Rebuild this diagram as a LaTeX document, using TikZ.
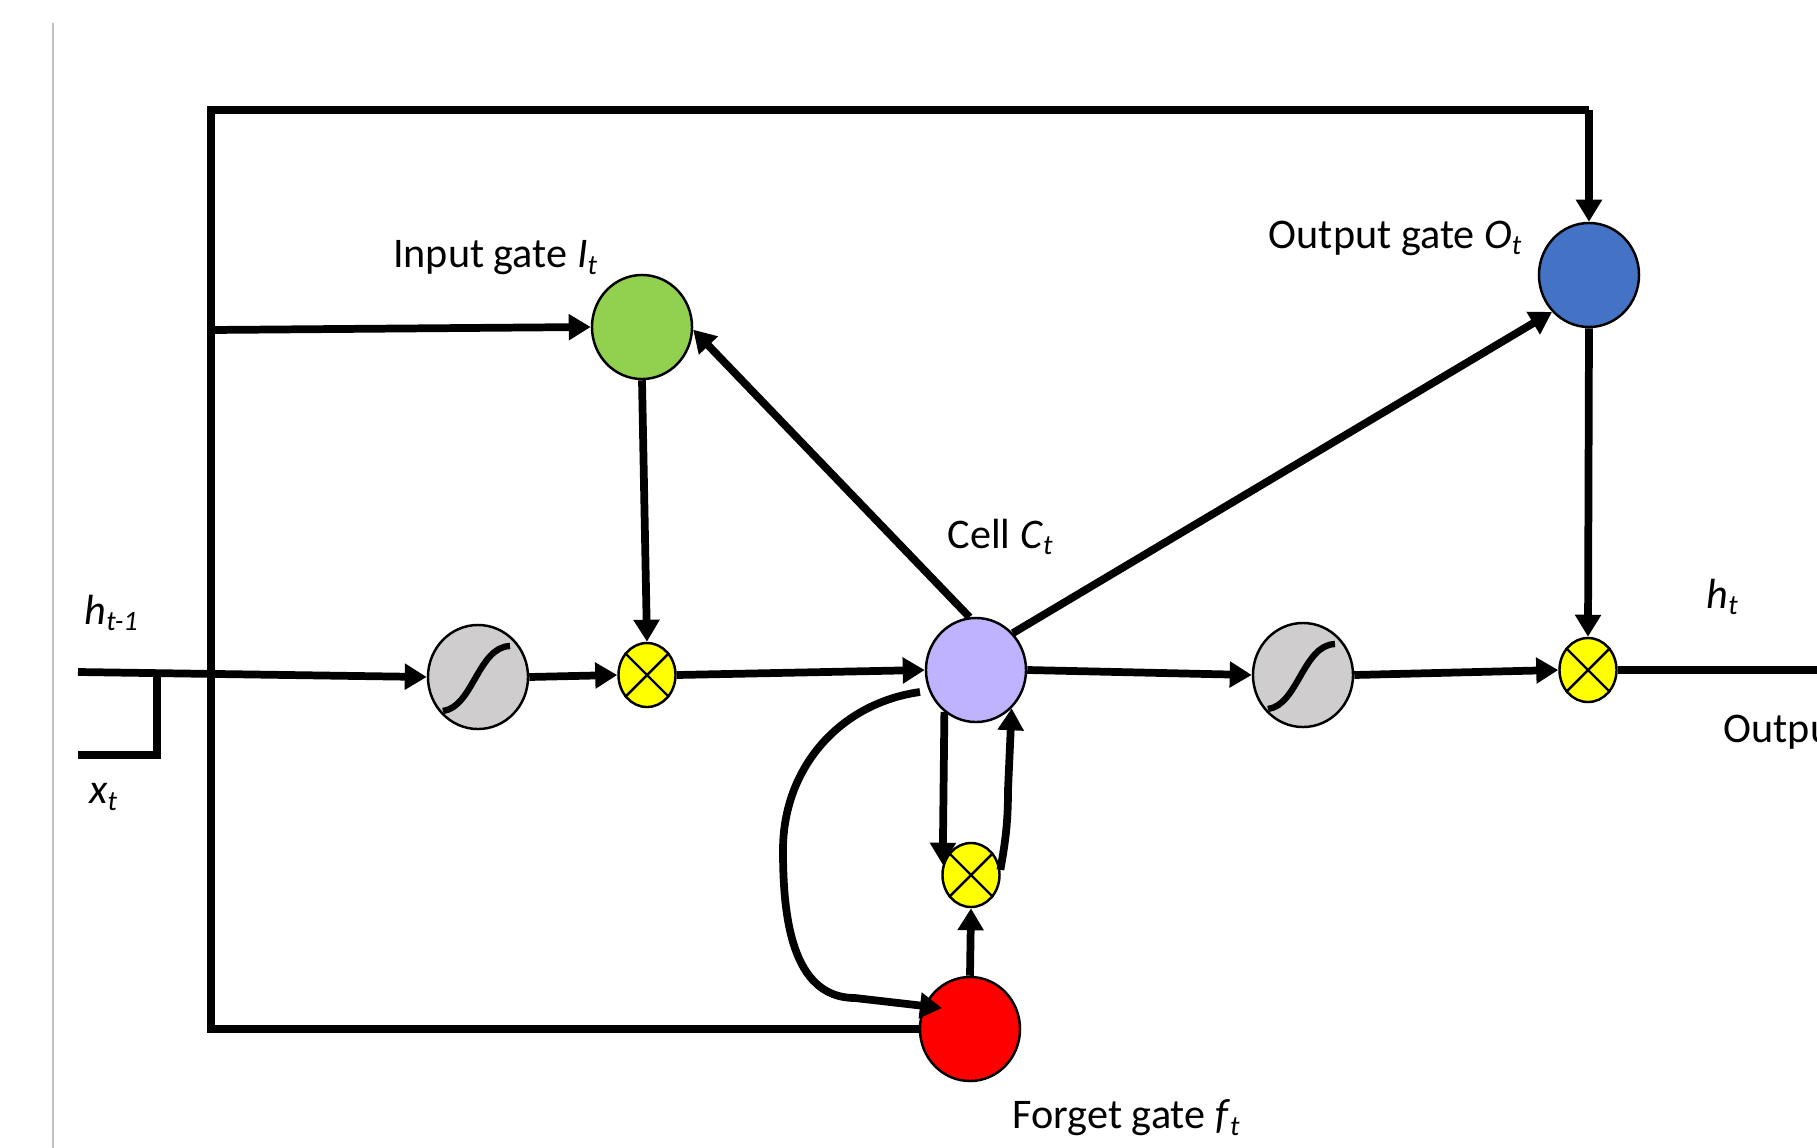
\documentclass[tikz,border=0pt]{standalone}
\usepackage{fontspec}
\setmainfont{Carlito}
\usetikzlibrary{arrows.meta,shapes.geometric}
\definecolor{cgreen}{HTML}{92D050}
\definecolor{cblue}{HTML}{4472C4}
\definecolor{ccell}{HTML}{BFB3FF}
\definecolor{cgray}{HTML}{CFCDCD}
\definecolor{cyel}{HTML}{FFFF00}
\definecolor{cred}{HTML}{FF0000}
\begin{document}
\begin{tikzpicture}[x=0.01cm,y=-0.01cm,
  gate/.style={ellipse,draw=black,line width=0.7pt,minimum width=1cm,minimum height=1.04cm,inner sep=0pt},
  mulnode/.style={ellipse,draw=black,line width=0.7pt,fill=cyel,minimum width=0.57cm,minimum height=0.64cm,inner sep=0pt},
  wire/.style={line width=2.2pt,line join=miter},
  arr/.style={wire,-{Triangle[length=0.22cm,width=0.25cm]}},
  sline/.style={line width=1.8pt},
  lbl/.style={font=\fontsize{12}{14}\selectfont,inner sep=0pt}]
\useasboundingbox (0,0) rectangle (1817,1148);
\clip (0,0) rectangle (1817,1148);
\draw[color=black!25,line width=0.5pt] (53,23) -- (53,1148);

% nodes
\node[gate,fill=cgreen] (ig) at (642,327) {};
\node[gate,fill=cblue] (og) at (1589,275) {};
\node[gate,fill=ccell] (cell) at (976,670) {};
\node[gate,fill=cred] (fg) at (970,1029) {};
\node[gate,fill=cgray] (sig1) at (478,677) {};
\node[gate,fill=cgray] (sig2) at (1303,675) {};
\node[mulnode] (mul1) at (647,675) {};
\node[mulnode] (mulf) at (971,875) {};
\node[mulnode] (mulo) at (1588,670) {};
\foreach \m in {mul1,mulf,mulo}{
  \draw[line width=0.7pt] (\m.45) -- (\m.225) (\m.135) -- (\m.315);
}
\foreach \s in {sig1,sig2}{
  \draw[sline] ([shift={(-35,34)}]\s.center) .. controls ([shift={(-5,30)}]\s.center) and ([shift={(0,-30)}]\s.center) .. ([shift={(32,-31)}]\s.center);
}

% coordinates
\coordinate (hin) at (78,672);
\coordinate (xin) at (78,755);
\coordinate (xj) at (157,672);
\coordinate (tl) at (211,110);
\coordinate (tr) at (1589,110);
\coordinate (bl) at (211,1029);
\coordinate (il) at (211,330);
\coordinate (hout) at (1817,670);
\coordinate (cs) at (920,692);
\coordinate (cl) at (783,850);
\coordinate (cb) at (855,998);
\coordinate (fe) at (942,1008);
\coordinate (fr) at (1008,790);

% connectors
\draw[wire] (fg.west) -- (bl) -- (tl) -- (tr);
\draw[arr] (tr) -- (og.north);
\draw[arr] (il) -- (ig.west);
\draw[arr] (hin) -- (sig1.west);
\draw[wire] (xin) -| (xj);
\draw[arr] (sig1.east) -- (mul1.west);
\draw[arr] (ig.south) -- (mul1.north);
\draw[arr] (mul1.east) -- (cell.west);
\draw[arr] (cell.97) -- (ig.-3);
\draw[arr] (cell.45) -- (og.225);
\draw[arr] (cell.east) -- (sig2.west);
\draw[arr] (sig2.east) -- (mulo.west);
\draw[arr] (og.south) -- (mulo.north);
\draw[wire] (mulo.east) -- (hout);
\draw[arr] (cell.233) -- (mulf.160);
\draw[arr] (mulf.10) to[out=80,in=-90] (fr) -- (cell.313);
\draw[arr] (fg.north) -- (mulf.south);
\draw[arr] (cs) to[out=188,in=90] (cl) to[out=-90,in=180] (cb) -- (fe);

% labels
\node[lbl] (tin) at (496,258) {Input gate \textit{I}\textsubscript{\textit{t}}};
\node[lbl] (tout) at (1396,238) {Output gate \textit{O}\textsubscript{\textit{t}}};
\node[lbl] (tcell) at (1001,537) {Cell \textit{C}\textsubscript{\textit{t}}};
\node[lbl] (tfg) at (1127,1118) {Forget gate \textit{f}\textsubscript{\textit{t}}};
\node[lbl] (tht) at (1723,597) {\textit{h}\textsubscript{\textit{t}}};
\node[lbl,anchor=west] (touput) at (1723,732) {Output};
\node[lbl] (thm) at (112,613) {\textit{h}\textsubscript{\textit{t-1}}};
\node[lbl] (txt) at (104,797) {\textit{x}\textsubscript{\textit{t}}};
\end{tikzpicture}
\end{document}
